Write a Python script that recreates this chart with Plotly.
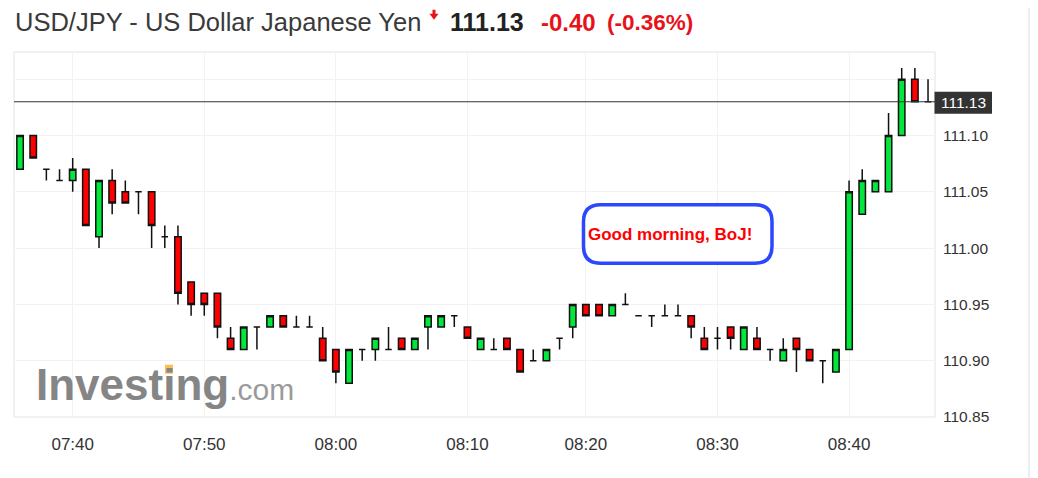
import plotly.graph_objects as go

# ---------------- data ----------------
times = ["07:36", "07:37", "07:38", "07:39", "07:40", "07:41", "07:42", "07:43", "07:44", "07:45",
         "07:46", "07:47", "07:48", "07:49", "07:50", "07:51", "07:52", "07:53", "07:54", "07:55",
         "07:56", "07:57", "07:58", "07:59", "08:00", "08:01", "08:02", "08:03", "08:04", "08:05",
         "08:06", "08:07", "08:08", "08:09", "08:10", "08:11", "08:12", "08:13", "08:14", "08:15",
         "08:16", "08:17", "08:19", "08:20", "08:21", "08:22", "08:23", "08:24", "08:25", "08:26",
         "08:27", "08:28", "08:29", "08:30", "08:31", "08:32", "08:33", "08:34", "08:35", "08:36",
         "08:37", "08:38", "08:39", "08:40", "08:41", "08:42", "08:43", "08:44", "08:45", "08:46"]

opens = [111.07, 111.10, 111.07, 111.06, 111.06, 111.07, 111.01, 111.06, 111.05, 111.05,
         111.05, 111.01, 111.01, 110.97, 110.96, 110.96, 110.92, 110.91, 110.93, 110.93,
         110.94, 110.93, 110.93, 110.92, 110.91, 110.88, 110.91, 110.91, 110.91, 110.92,
         110.91, 110.93, 110.93, 110.94, 110.93, 110.91, 110.91, 110.92, 110.91, 110.90,
         110.90, 110.92, 110.93, 110.95, 110.95, 110.94, 110.95, 110.94, 110.94, 110.94,
         110.94, 110.94, 110.92, 110.92, 110.93, 110.91, 110.92, 110.91, 110.90, 110.92,
         110.91, 110.90, 110.89, 110.91, 111.03, 111.05, 111.05, 111.10, 111.15, 111.13]

highs = [111.10, 111.10, 111.07, 111.07, 111.08, 111.07, 111.06, 111.07, 111.06, 111.05,
         111.05, 111.02, 111.02, 110.97, 110.96, 110.96, 110.93, 110.93, 110.93, 110.94,
         110.94, 110.94, 110.94, 110.93, 110.91, 110.91, 110.91, 110.92, 110.93, 110.92,
         110.92, 110.94, 110.94, 110.94, 110.93, 110.92, 110.92, 110.92, 110.91, 110.91,
         110.91, 110.92, 110.95, 110.95, 110.95, 110.95, 110.96, 110.94, 110.94, 110.95,
         110.95, 110.94, 110.93, 110.93, 110.93, 110.93, 110.93, 110.91, 110.92, 110.92,
         110.91, 110.90, 110.91, 111.06, 111.07, 111.06, 111.12, 111.16, 111.16, 111.15]

lows = [111.07, 111.08, 111.06, 111.06, 111.05, 111.02, 111.00, 111.03, 111.04, 111.03,
        111.00, 111.00, 110.95, 110.94, 110.94, 110.92, 110.91, 110.91, 110.91, 110.93,
        110.93, 110.93, 110.93, 110.90, 110.88, 110.88, 110.90, 110.90, 110.91, 110.91,
        110.91, 110.91, 110.93, 110.93, 110.92, 110.91, 110.91, 110.91, 110.89, 110.90,
        110.90, 110.91, 110.92, 110.94, 110.94, 110.94, 110.95, 110.94, 110.93, 110.94,
        110.94, 110.92, 110.91, 110.91, 110.91, 110.91, 110.91, 110.90, 110.90, 110.89,
        110.90, 110.88, 110.89, 110.91, 111.03, 111.05, 111.05, 111.10, 111.13, 111.13]

closes = [111.10, 111.08, 111.07, 111.06, 111.07, 111.02, 111.06, 111.04, 111.04, 111.05,
          111.02, 111.01, 110.96, 110.95, 110.95, 110.93, 110.91, 110.93, 110.93, 110.94,
          110.93, 110.93, 110.93, 110.90, 110.89, 110.91, 110.91, 110.92, 110.91, 110.91,
          110.92, 110.94, 110.94, 110.94, 110.92, 110.92, 110.91, 110.91, 110.89, 110.90,
          110.91, 110.92, 110.95, 110.94, 110.94, 110.95, 110.95, 110.94, 110.94, 110.94,
          110.94, 110.93, 110.91, 110.92, 110.92, 110.93, 110.91, 110.91, 110.91, 110.91,
          110.90, 110.90, 110.91, 111.05, 111.06, 111.06, 111.10, 111.15, 111.13, 111.13]

x_ticks = ["07:40", "07:50", "08:00", "08:10", "08:20", "08:30", "08:40"]
y_ticks = [110.85, 110.90, 110.95, 111.00, 111.05, 111.10, 111.15]
y_tick_text = ["110.85", "110.90", "110.95", "111.00", "111.05", "111.10", ""]
last_price = 111.13
last_price_text = "111.13"

title_text = "USD/JPY - US Dollar Japanese Yen"
price_text = "111.13"
change_text = "-0.40"
pct_text = "(-0.36%)"
note_text = "Good morning, BoJ!"

# ---------------- layout helpers (screen pixel -> paper) ----------------
OFF = 8                      # page body margin
W, H = 1038 - OFF, 478 - OFF
L, R, T, B = 14, 935, 52.3, 417.3   # plot area in screen pixels
PW, PH = R - L, B - T


def px(xs):
    return (xs - L) / PW


def py(ys):
    return (B - ys) / PH


FONT = "Arial, Liberation Sans, sans-serif"
GREEN = "#00e83c"
RED = "#ff0000"

fig = go.Figure(go.Candlestick(
    x=times, open=opens, high=highs, low=lows, close=closes,
    increasing=dict(fillcolor=GREEN, line=dict(color="#111111", width=1.5)),
    decreasing=dict(fillcolor=RED, line=dict(color="#111111", width=1.5)),
    whiskerwidth=0, hoverinfo="skip", showlegend=False,
))

shapes = []
shapes.append(dict(type="rect", xref="paper", yref="paper", x0=0, x1=1, y0=0, y1=1,
                   line=dict(color="#e3e3ea", width=1), layer="below"))
shapes.append(dict(type="line", xref="paper", yref="paper", x0=px(1029), x1=px(1029),
                   y0=py(478), y1=py(OFF), line=dict(color="#dcdcdc", width=1)))
shapes.append(dict(type="line", xref="paper", yref="y", x0=0, x1=1, y0=last_price, y1=last_price,
                   line=dict(color="#333333", width=1)))
shapes.append(dict(type="rect", xref="paper", yref="paper", x0=px(934.5), x1=px(992),
                   y0=py(114), y1=py(92), fillcolor="#333333", line=dict(width=0)))


def rounded(x0, y0, x1, y1, r):
    pts = [
        f"M {px(x0 + r)},{py(y0)}",
        f"L {px(x1 - r)},{py(y0)}",
        f"Q {px(x1)},{py(y0)} {px(x1)},{py(y0 + r)}",
        f"L {px(x1)},{py(y1 - r)}",
        f"Q {px(x1)},{py(y1)} {px(x1 - r)},{py(y1)}",
        f"L {px(x0 + r)},{py(y1)}",
        f"Q {px(x0)},{py(y1)} {px(x0)},{py(y1 - r)}",
        f"L {px(x0)},{py(y0 + r)}",
        f"Q {px(x0)},{py(y0)} {px(x0 + r)},{py(y0)}",
        "Z",
    ]
    return " ".join(pts)


shapes.append(dict(type="path", xref="paper", yref="paper", path=rounded(583.5, 205, 772, 263.5, 17),
                   fillcolor="white", line=dict(color="#2b48ff", width=3.5)))

arrow = (f"M {px(432.5)},{py(10)} L {px(435.5)},{py(10)} L {px(435.5)},{py(14)} "
         f"L {px(438.5)},{py(14)} L {px(434)},{py(20)} L {px(429.5)},{py(14)} L {px(432.5)},{py(14)} Z")
shapes.append(dict(type="path", xref="paper", yref="paper", path=arrow,
                   fillcolor="#e8131a", line=dict(width=0)))

shapes.append(dict(type="rect", xref="paper", yref="paper", x0=px(165), x1=px(173),
                   y0=py(374), y1=py(365), fillcolor="#f6c05a", line=dict(width=0)))

annotations = [
    dict(text=title_text, xref="paper", yref="paper", x=px(13), y=py(22), xanchor="left",
         yanchor="middle", showarrow=False, font=dict(family=FONT, size=25.5, color="#3a3a3a")),
    dict(text=f"<b>{price_text}</b>", xref="paper", yref="paper", x=px(448), y=py(22), xanchor="left",
         yanchor="middle", showarrow=False, font=dict(family=FONT, size=25, color="#222222")),
    dict(text=f"<b>{change_text}</b>", xref="paper", yref="paper", x=px(539), y=py(23), xanchor="left",
         yanchor="middle", showarrow=False, font=dict(family=FONT, size=24, color="#e8131a")),
    dict(text=f"<b>{pct_text}</b>", xref="paper", yref="paper", x=px(605), y=py(23), xanchor="left",
         yanchor="middle", showarrow=False, font=dict(family=FONT, size=22.5, color="#e8131a")),
    dict(text=f"<b>{note_text}</b>", xref="paper", yref="paper", x=px(586), y=py(235), xanchor="left",
         yanchor="middle", showarrow=False, font=dict(family=FONT, size=17, color="#ff0000")),
    dict(text=last_price_text, xref="paper", yref="paper", x=px(963), y=py(103), xanchor="center",
         yanchor="middle", showarrow=False, font=dict(family=FONT, size=15.5, color="white")),
    dict(text="<b>Investing</b><span style='font-size:30px;color:#9a9a9a'>.com</span>",
         xref="paper", yref="paper", x=px(34), y=py(385), xanchor="left", yanchor="middle",
         showarrow=False, font=dict(family=FONT, size=44, color="#858585")),
]

fig.update_layout(
    width=W, height=H,
    margin=dict(l=L - OFF, r=W - (R - OFF), t=T - OFF, b=H - (B - OFF), autoexpand=False),
    paper_bgcolor="white", plot_bgcolor="white",
    boxgap=0.3,
    font=dict(family=FONT, size=15, color="#333333"),
    shapes=shapes, annotations=annotations,
    xaxis=dict(type="category", range=[-0.46, 69.53], rangeslider=dict(visible=False),
               tickmode="array", tickvals=x_ticks, ticktext=x_ticks,
               showgrid=True, gridcolor="#f2f2f4", gridwidth=1, zeroline=False,
               showline=False, ticks="", ticklabelstandoff=15,
               tickfont=dict(family=FONT, size=17, color="#333333"), fixedrange=True),
    yaxis=dict(side="right", range=[110.85, 111.1742], tickmode="array",
               tickvals=y_ticks, ticktext=y_tick_text,
               showgrid=True, gridcolor="#f2f2f4", gridwidth=1, zeroline=False,
               showline=False, ticks="", ticklabelstandoff=7,
               tickfont=dict(family=FONT, size=15.5, color="#333333"), fixedrange=True),
)

fig.write_html("out.html")
